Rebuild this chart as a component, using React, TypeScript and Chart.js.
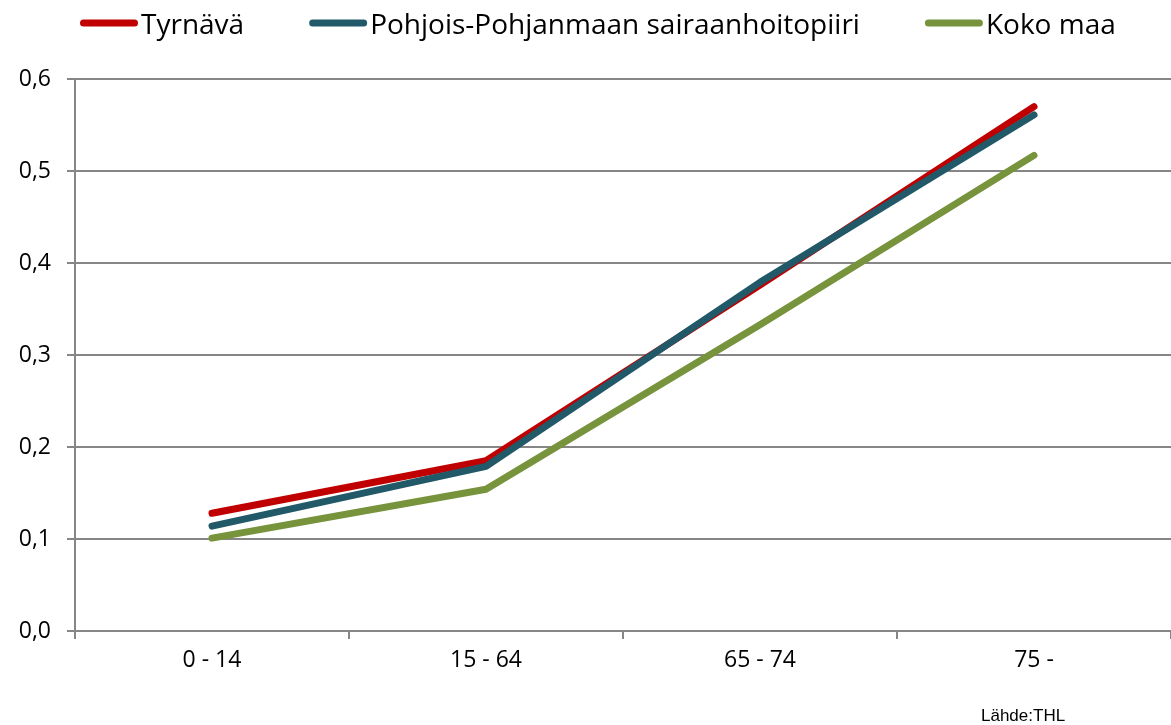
import React, { useEffect, useRef } from "react";
import { Chart, registerables } from "chart.js";

Chart.register(...registerables);

const categories = ["0 - 14", "15 - 64", "65 - 74", "75 -"];
const seriesNames = ["Tyrnävä", "Pohjois-Pohjanmaan sairaanhoitopiiri", "Koko maa"];
const tyrnava = [0.128, 0.185, 0.376, 0.57];
const ppshp = [0.114, 0.179, 0.379, 0.561];
const kokoMaa = [0.101, 0.154, 0.333, 0.517];
const seriesColors = ["#C00000", "#215968", "#77933C"];
const yMin = 0;
const yMax = 0.6;
const yStep = 0.1;
const sourceText = "Lähde:THL";

const FONT = '"Open Sans", "Noto Sans", sans-serif';
const GRID = "#868686";

const legendPlugin = {
  id: "customLegend",
  afterDraw(chart: any) {
    const ctx = chart.ctx;
    ctx.save();
    ctx.font = `28px ${FONT}`;
    ctx.textBaseline = "alphabetic";
    ctx.textAlign = "left";
    let x = 80;
    const y = 23;
    chart.data.datasets.forEach((ds: any) => {
      ctx.strokeStyle = ds.borderColor;
      ctx.lineWidth = 7;
      ctx.lineCap = "round";
      ctx.beginPath();
      ctx.moveTo(x + 3.5, y);
      ctx.lineTo(x + 54.5, y);
      ctx.stroke();
      ctx.fillStyle = "#000";
      ctx.fillText(ds.label, x + 61, 34);
      const w = ctx.measureText(ds.label).width;
      x += 61 + w + 65;
    });
    ctx.font = `17px "Liberation Sans", Arial, sans-serif`;
    ctx.fillStyle = "#000";
    ctx.fillText(sourceText, 981, 721);
    ctx.restore();
  },
};

export default function App() {
  const ref = useRef<HTMLCanvasElement | null>(null);
  useEffect(() => {
    if (!ref.current) return;
    const data = [tyrnava, ppshp, kokoMaa];
    const chart = new Chart(ref.current, {
      type: "line",
      data: {
        labels: categories,
        datasets: seriesNames.map((name, i) => ({
          label: name,
          data: data[i],
          borderColor: seriesColors[i],
          backgroundColor: seriesColors[i],
          borderWidth: 7,
          pointRadius: 0,
          borderCapStyle: "round",
          borderJoinStyle: "round",
          tension: 0,
          order: 3 - i,
        })),
      },
      options: {
        animation: false,
        responsive: true,
        maintainAspectRatio: false,
        layout: { padding: { top: 79, right: 0, left: 0, bottom: 0 } },
        plugins: {
          legend: { display: false },
          tooltip: { enabled: false },
        },
        scales: {
          x: {
            offset: true,
            grid: {
              offset: true,
              drawOnChartArea: false,
              drawTicks: true,
              tickLength: 8,
              color: GRID,
              lineWidth: 2,
            },
            border: { display: true, color: GRID, width: 2 },
            ticks: {
              color: "#000",
              padding: 8,
              font: { family: FONT, size: 23 },
              maxRotation: 0,
            },
            afterFit(scale: any) {
              scale.height = 94;
            },
          },
          y: {
            min: yMin,
            max: yMax,
            grid: {
              color: GRID,
              lineWidth: 2,
              drawTicks: true,
              tickLength: 8,
            },
            border: { display: true, color: GRID, width: 2 },
            ticks: {
              stepSize: yStep,
              color: "#000",
              padding: 16,
              font: { family: FONT, size: 23 },
              callback: (v: any) => Number(v).toFixed(1).replace(".", ","),
            },
            afterFit(scale: any) {
              scale.width = 75;
            },
          },
        },
      },
      plugins: [legendPlugin],
    });
    return () => chart.destroy();
  }, []);
  return (
    <div style={{ position: "absolute", left: 0, top: 0, width: 1171, height: 725, background: "#fff" }}>
      <canvas ref={ref} />
    </div>
  );
}
